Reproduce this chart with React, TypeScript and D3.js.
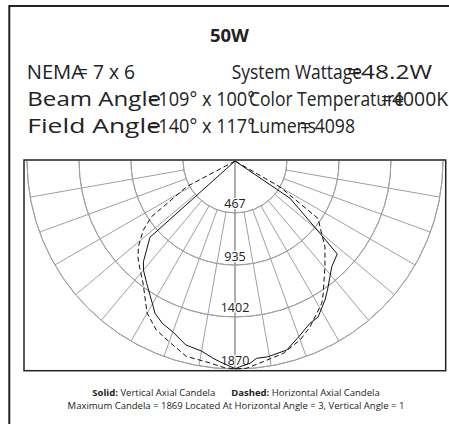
import * as d3 from "d3";

// ---- data ---------------------------------------------------------------
const title = "50W";
const specLabels = ["NEMA", "System Wattage", "Beam Angle", "Color Temperature", "Field Angle", "Lumens"];
const specValues = ["= 7 x 6", "=48.2W", "=109° x 100°", "=4000K", "=140° x 117°", "= 4098"];

const ringValues = [467, 935, 1402, 1870];
const spokeAngles = [10, 20, 30, 40, 50, 60, 70, 80];

// solid = vertical axial candela (left / right half)
const solidLeftAngles = [0, 4.3, 6.3, 10, 15, 20, 24, 27.7, 29.3, 35.8, 40, 42.3, 48.1, 90];
const solidLeftCd = [1866, 1810, 1785, 1735, 1712, 1635, 1600, 1547, 1502, 1357, 1280, 1223, 1027, 0];
const solidRightAngles = [0, 1.4, 4.2, 6.3, 9.5, 15.3, 20, 24.8, 28, 32.9, 35.6, 42.5, 47.7, 49.6, 55.9, 90];
const solidRightCd = [1869, 1850, 1824, 1784, 1785, 1762, 1680, 1607, 1590, 1489, 1428, 1288, 1243, 1003, 597, 0];

// dashed = horizontal axial candela
const dashedLeftAngles = [0, 3, 7, 14, 20, 25, 30, 37, 41, 45, 48.4, 53, 56.3, 62, 90];
const dashedLeftCd = [1868, 1860, 1830, 1810, 1730, 1675, 1580, 1374, 1300, 1233, 1162, 1032, 900, 490, 0];
const dashedRightAngles = [0, 3.2, 8, 14.1, 20, 24.3, 31.4, 33.7, 40.3, 46.3, 52.2, 55.3, 60, 90];
const dashedRightCd = [1868, 1866, 1822, 1783, 1712, 1638, 1498, 1430, 1250, 1119, 967, 911, 467, 0];

const legendSolid = "Solid:";
const legendSolidText = " Vertical Axial Candela";
const legendDashed = "Dashed:";
const legendDashedText = " Horizontal Axial Candela";
const maxNote = "Maximum Candela = 1869 Located At Horizontal Angle = 3, Vertical Angle = 1";

// ---- layout -------------------------------------------------------------
const W = 449;
const H = 424;
const FONT = "'Open Sans', Lato, sans-serif";
// start / end x of each label and value (the value overlaps the label end, as in the source sheet)
const specPos = [
  { y: 79.3, l: [26.7, 84], v: [77, 135] },
  { y: 79.3, l: [231.7, 362], v: [347, 432] },
  { y: 106, l: [27.3, 161], v: [148, 255] },
  { y: 106, l: [249, 404], v: [381, 448] },
  { y: 132.7, l: [27.3, 161], v: [148, 255] },
  { y: 132.7, l: [250, 316], v: [300, 355] },
];
const cx = 235;
const cy = 161;
const R = 208;

const rad = (deg: number) => (deg * Math.PI) / 180;

export default function App() {
  const r = d3.scaleLinear().domain([0, 1870]).range([0, R]);

  // d3 radial angles: 0 = up, clockwise, so nadir = PI
  const curve = (la: number[], lv: number[], ra: number[], rv: number[]) => {
    const left = la.map((a, i) => [Math.PI + rad(a), lv[i]] as [number, number]).reverse();
    const right = ra.map((a, i) => [Math.PI - rad(a), rv[i]] as [number, number]);
    return d3
      .lineRadial<[number, number]>()
      .angle((d) => d[0])
      .radius((d) => r(d[1]))([...left, ...right]);
  };

  const ringArc = d3
    .arc<number>()
    .innerRadius((d) => r(d))
    .outerRadius((d) => r(d))
    .startAngle(Math.PI / 2)
    .endAngle((3 * Math.PI) / 2);

  const spokes = spokeAngles.flatMap((a) => [Math.PI + rad(a), Math.PI - rad(a)]);
  const r0 = r(ringValues[0]);
  const r1 = r(ringValues[ringValues.length - 1]);

  return (
    <svg
      width={W}
      height={H}
      style={{ position: "absolute", left: 0, top: 0, background: "#fff" }}
      fontFamily={FONT}
    >
      {/* outer frame */}
      <rect x={9.3} y={6} width={460} height={440} fill="none" stroke="#222" strokeWidth={2} />

      <text x={229.5} y={41.5} textAnchor="middle" fontSize={18.5} fontWeight="bold" fill="#222">
        {title}
      </text>

      {specLabels.map((lab, i) => {
        const p = specPos[i];
        return (
          <g key={lab} fontSize={20} fill="#222">
            <text x={p.l[0]} y={p.y} textLength={p.l[1] - p.l[0]} lengthAdjust="spacingAndGlyphs">
              {lab}
            </text>
            <text x={p.v[0]} y={p.y} textLength={p.v[1] - p.v[0]} lengthAdjust="spacingAndGlyphs">
              {specValues[i]}
            </text>
          </g>
        );
      })}

      {/* polar grid */}
      <g transform={`translate(${cx},${cy})`}>
        {ringValues.map((v) => (
          <path key={v} d={ringArc(v) ?? ""} fill="none" stroke="#9f9f9f" strokeWidth={1} />
        ))}
        {spokes.map((a, i) => (
          <line
            key={i}
            x1={r0 * Math.sin(a)}
            y1={-r0 * Math.cos(a)}
            x2={r1 * Math.sin(a)}
            y2={-r1 * Math.cos(a)}
            stroke="#9f9f9f"
            strokeWidth={1}
          />
        ))}
        <line x1={0} y1={0} x2={0} y2={r1} stroke="#999" strokeWidth={1.6} />

        {ringValues.map((v) => (
          <text
            key={"l" + v}
            x={0}
            y={r(v) - 4.5}
            textAnchor="middle"
            fontSize={12.5}
            fill="#222"
            stroke="#fff"
            strokeWidth={2.5}
            paintOrder="stroke"
          >
            {v}
          </text>
        ))}

        <path
          d={curve(dashedLeftAngles, dashedLeftCd, dashedRightAngles, dashedRightCd) ?? ""}
          fill="none"
          stroke="#111"
          strokeWidth={1}
          strokeDasharray="5,3"
        />
        <path
          d={curve(solidLeftAngles, solidLeftCd, solidRightAngles, solidRightCd) ?? ""}
          fill="none"
          stroke="#111"
          strokeWidth={1}
        />
      </g>

      {/* plot box */}
      <rect x={24} y={160} width={421.7} height={210.7} fill="none" stroke="#222" strokeWidth={1.5} />

      <text x={236} y={396} textAnchor="middle" fontSize={9.5} fill="#222">
        <tspan fontWeight="bold">{legendSolid}</tspan>
        <tspan>{legendSolidText}</tspan>
        <tspan dx={16} fontWeight="bold">{legendDashed}</tspan>
        <tspan>{legendDashedText}</tspan>
      </text>
      <text x={236} y={409.3} textAnchor="middle" fontSize={9.5} fill="#222">
        {maxNote}
      </text>
    </svg>
  );
}
